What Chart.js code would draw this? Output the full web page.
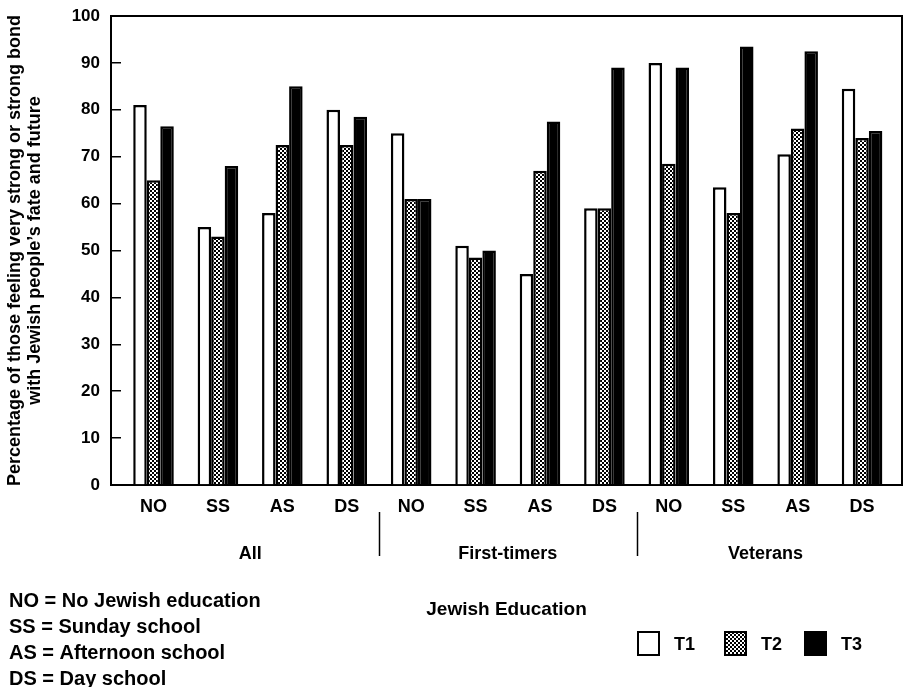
<!DOCTYPE html>
<html><head><meta charset="utf-8">
<script src="https://cdn.jsdelivr.net/npm/chart.js@4"></script>
<style>html,body{margin:0;padding:0;background:#fff}canvas{display:block}</style>
</head><body>
<canvas id="c" width="903" height="687"></canvas>
<script>
// ---- data ----
const eduLabels = ['NO','SS','AS','DS','NO','SS','AS','DS','NO','SS','AS','DS'];
const groupLabels = ['All','First-timers','Veterans'];
const seriesNames = ['T1','T2','T3'];
const t1Values = [81, 55, 58, 80,   75, 51, 45, 59,   90, 63.5, 70.5, 84.5];
const t2Values = [65, 53, 72.5, 72.5, 61, 48.5, 67, 59, 68.5, 58, 76, 74];
const t3Values = [76.5, 68, 85, 78.5, 61, 50, 77.5, 89, 89, 93.5, 92.5, 75.5];
const yTickValues = [0,10,20,30,40,50,60,70,80,90,100];
const yTitle = ['Percentage of those feeling very strong or strong bond', 'with Jewish people\u2019s fate and future'];
const xTitle = 'Jewish Education';
const notes = ['NO = No Jewish education','SS = Sunday school','AS = Afternoon school','DS = Day school'];

const FONT = "'Liberation Sans', Arial, sans-serif";
const canvas = document.getElementById('c');
const ctx = canvas.getContext('2d');

function makePattern() {
  const p = document.createElement('canvas');
  p.width = 4; p.height = 4;
  const g = p.getContext('2d');
  g.fillStyle = '#fff'; g.fillRect(0,0,4,4);
  g.fillStyle = '#000';
  g.fillRect(0,0,2,2); g.fillRect(2,2,2,2);
  return ctx.createPattern(p, 'repeat');
}
const dotPattern = makePattern();
const fills = ['#ffffff', dotPattern, '#000000'];
const allValues = [t1Values, t2Values, t3Values];

const xMin = -0.66, xMax = 11.62;

const decorPlugin = {
  id: 'decor',
  afterDraw(chart) {
    const c = chart.ctx, a = chart.chartArea;
    const xs = chart.scales.x;
    c.save();
    c.strokeStyle = '#000';
    c.lineWidth = 2;
    c.beginPath();
    c.moveTo(a.left, a.top); c.lineTo(a.right, a.top); c.lineTo(a.right, a.bottom);
    c.stroke();
    // group separators
    c.lineWidth = 1.5;
    [3.5, 7.5].forEach(v => {
      const px = Math.round(xs.getPixelForValue(v)) + 0.5;
      c.beginPath(); c.moveTo(px, 512); c.lineTo(px, 556); c.stroke();
    });
    // notes
    c.fillStyle = '#000';
    c.font = "bold 20px " + FONT;
    c.textBaseline = 'middle';
    c.textAlign = 'left';
    notes.forEach((t, i) => c.fillText(t, 9, 601 + i * 26));
    // legend
    const lx = [638, 725, 805];
    chart.data.datasets.forEach((ds, i) => {
      const x = lx[i], y = 632, w = 21, h = 23;
      c.fillStyle = ds.backgroundColor;
      c.fillRect(x, y, w, h);
      c.lineWidth = 2; c.strokeStyle = '#000';
      c.strokeRect(x, y, w, h);
      c.fillStyle = '#000';
      c.font = "bold 18px " + FONT;
      c.fillText(ds.label, x + 36, y + h / 2 + 2);
    });
    c.restore();
  }
};

new Chart(ctx, {
  type: 'bar',
  data: {
    datasets: seriesNames.map((name, k) => ({
      label: name,
      data: allValues[k].map((v, i) => ({x: i, y: v})),
      backgroundColor: fills[k],
      borderColor: '#000',
      borderWidth: 2.5,
      borderSkipped: 'bottom'
    }))
  },
  options: {
    responsive: false,
    animation: false,
    devicePixelRatio: 1,
    layout: {padding: {top: 16, right: 1, left: 0, bottom: 0}},
    datasets: {bar: {categoryPercentage: 0.63, barPercentage: 1.0}},
    plugins: {legend: {display: false}, tooltip: {enabled: false}},
    scales: {
      x: {
        type: 'linear', position: 'bottom', weight: 0, offset: false,
        min: xMin, max: xMax,
        afterBuildTicks: s => { s.ticks = eduLabels.map((_, i) => ({value: i})); },
        ticks: {
          callback: v => eduLabels[v] ?? '',
          color: '#000', font: {family: FONT, size: 18, weight: 'bold'},
          padding: 3, autoSkip: false, maxRotation: 0
        },
        grid: {display: false},
        border: {display: true, color: '#000', width: 2},
        afterFit: s => { s.height = 45; s.paddingLeft = 0; s.paddingRight = 0; }
      },
      x2: {
        type: 'linear', position: 'bottom', weight: 1, offset: false,
        min: xMin, max: xMax,
        afterBuildTicks: s => { s.ticks = groupLabels.map((_, g) => ({value: g * 4 + 1.5})); },
        ticks: {
          callback: v => groupLabels[Math.round((v - 1.5) / 4)] ?? '',
          color: '#000', font: {family: FONT, size: 18, weight: 'bold'},
          padding: 5, autoSkip: false, maxRotation: 0
        },
        grid: {display: false},
        border: {display: false},
        title: {display: true, text: xTitle, color: '#000',
          font: {family: FONT, size: 19, weight: 'bold'}, padding: {top: 0, bottom: 66}},
        afterFit: s => { s.height = 157; s.paddingLeft = 0; s.paddingRight = 0; }
      },
      y: {
        min: 0, max: 100,
        afterBuildTicks: s => { s.ticks = yTickValues.map(v => ({value: v})); },
        ticks: {color: '#000', font: {family: FONT, size: 17, weight: 'bold'}, padding: 21},
        grid: {drawOnChartArea: false, drawTicks: true, tickLength: -10, color: '#000', lineWidth: 1.5},
        border: {display: true, color: '#000', width: 2},
        title: {display: true, text: yTitle, color: '#000',
          font: {family: FONT, size: 18, weight: 'bold', lineHeight: 1.1}, padding: {top: 5, bottom: 0}},
        afterFit: s => { s.width = 111; s.paddingTop = 0; s.paddingBottom = 0; }
      }
    }
  },
  plugins: [decorPlugin]
});
</script>
</body></html>
